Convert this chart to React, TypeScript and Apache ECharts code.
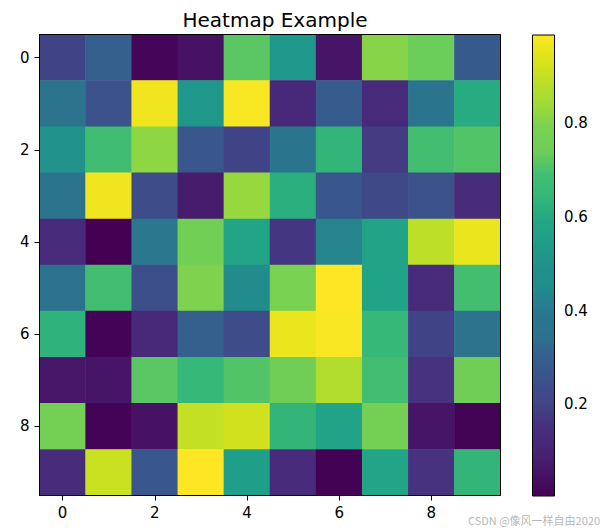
import React, { useEffect, useRef } from "react";
import * as echarts from "echarts";

const xCategories = ["0", "1", "2", "3", "4", "5", "6", "7", "8", "9"];
const yCategories = ["0", "1", "2", "3", "4", "5", "6", "7", "8", "9"];

const row0 = [0.2, 0.3, 0.02, 0.05, 0.72, 0.52, 0.06, 0.81, 0.74, 0.28];
const row1 = [0.36, 0.25, 0.97, 0.52, 0.98, 0.12, 0.29, 0.13, 0.37, 0.61];
const row2 = [0.5, 0.68, 0.82, 0.27, 0.2, 0.37, 0.64, 0.18, 0.69, 0.71];
const row3 = [0.36, 0.97, 0.23, 0.08, 0.83, 0.62, 0.27, 0.22, 0.25, 0.14];
const row4 = [0.13, 0.005, 0.39, 0.76, 0.58, 0.17, 0.43, 0.57, 0.89, 0.96];
const row5 = [0.35, 0.69, 0.24, 0.8, 0.46, 0.79, 0.99, 0.57, 0.13, 0.69];
const row6 = [0.63, 0.01, 0.12, 0.3, 0.23, 0.96, 0.985, 0.65, 0.2, 0.36];
const row7 = [0.07, 0.06, 0.72, 0.65, 0.71, 0.75, 0.87, 0.69, 0.16, 0.75];
const row8 = [0.77, 0.01, 0.05, 0.9, 0.92, 0.64, 0.57, 0.77, 0.06, 0.012];
const row9 = [0.14, 0.91, 0.27, 0.99, 0.55, 0.13, 0.008, 0.58, 0.16, 0.64];
const rows = [row0, row1, row2, row3, row4, row5, row6, row7, row8, row9];

const colorbarTicks = [0.2, 0.4, 0.6, 0.8];

const viridis = [
  "#440154", "#471365", "#482475", "#472f7d", "#414487", "#3b528b",
  "#355f8d", "#2c728e", "#2a788e", "#228b8d", "#21918c", "#1f9e89",
  "#22a884", "#35b779", "#44bf70", "#6ece58", "#7ad151", "#a0da39",
  "#bddf26", "#dfe318", "#fde725",
];

const FONT = "DejaVu Sans";

export default function App() {
  const ref = useRef<HTMLDivElement>(null);
  useEffect(() => {
    if (!ref.current) return;
    const chart = echarts.init(ref.current, null, { renderer: "svg" });
    const data: number[][] = [];
    rows.forEach((r, yi) => r.forEach((v, xi) => data.push([xi, yi, v])));
    const all = rows.flat();
    const vmin = Math.min(...all);
    const vmax = Math.max(...all);

    const gridL = 39.5, gridT = 34.5, gridW = 461, gridH = 461;
    const cbL = 532, cbW = 22;

    const n = viridis.length;
    const stops = viridis.map((_, i) => ({ offset: i / (n - 1), color: viridis[n - 1 - i] }));

    chart.setOption({
      animation: false,
      backgroundColor: "#ffffff",
      title: {
        text: "Heatmap Example",
        left: gridL + gridW / 2,
        top: 5,
        textAlign: "center",
        textStyle: { fontFamily: FONT, fontSize: 20, fontWeight: "normal", color: "#000" },
      },
      grid: [
        { left: gridL, top: gridT, width: gridW, height: gridH, show: true, borderColor: "#000", borderWidth: 1, backgroundColor: "transparent", z: 10 },
        { left: cbL, top: gridT, width: cbW, height: gridH, show: false },
      ],
      xAxis: [
        {
          type: "category",
          data: xCategories,
          gridIndex: 0,
          position: "bottom",
          axisLine: { show: true, lineStyle: { color: "#000", width: 1 } },
          axisTick: { show: true, alignWithLabel: true, interval: 1, length: 5, lineStyle: { color: "#000", width: 1 } },
          axisLabel: { interval: 1, margin: 10, fontFamily: FONT, fontSize: 15, color: "#000" },
          splitLine: { show: false },
          splitArea: { show: false },
        },
        { type: "value", gridIndex: 1, show: false, min: 0, max: 1 },
      ],
      yAxis: [
        {
          type: "category",
          data: yCategories,
          gridIndex: 0,
          inverse: true,
          axisLine: { show: true, lineStyle: { color: "#000", width: 1 } },
          axisTick: { show: true, alignWithLabel: true, interval: 1, length: 5, lineStyle: { color: "#000", width: 1 } },
          axisLabel: { interval: 1, margin: 10, fontFamily: FONT, fontSize: 15, color: "#000" },
          splitLine: { show: false },
          splitArea: { show: false },
        },
        {
          type: "value",
          gridIndex: 1,
          position: "right",
          min: vmin,
          max: vmax,
          axisLine: { show: false },
          axisTick: { show: true, length: 5, customValues: colorbarTicks, lineStyle: { color: "#000", width: 1 } },
          axisLabel: {
            margin: 10,
            customValues: colorbarTicks,
            formatter: (v: number) => v.toFixed(1),
            fontFamily: FONT,
            fontSize: 15,
            color: "#000",
          },
          splitLine: { show: false },
        },
      ],
      visualMap: {
        show: false,
        type: "continuous",
        seriesIndex: 0,
        dimension: 2,
        min: vmin,
        max: vmax,
        inRange: { color: viridis },
      },
      graphic: [
        {
          type: "rect",
          left: cbL,
          top: gridT,
          shape: { width: cbW, height: gridH },
          style: {
            fill: new echarts.graphic.LinearGradient(0, 0, 0, 1, stops),
            stroke: "#000",
            lineWidth: 1,
          },
          z: 5,
        },
        {
          type: "text",
          right: 7,
          bottom: 5,
          style: { text: "CSDN @像风一样自由2020", fill: "#b8b8b8", fontSize: 11, fontFamily: "Noto Sans CJK SC" },
        },
      ],
      series: [
        {
          type: "heatmap",
          xAxisIndex: 0,
          yAxisIndex: 0,
          data,
          itemStyle: { borderWidth: 0 },
          emphasis: { disabled: true },
        },
      ],
    });
    return () => chart.dispose();
  }, []);
  return <div ref={ref} style={{ position: "fixed", left: 0, top: 0, width: 607, height: 530 }} />;
}
